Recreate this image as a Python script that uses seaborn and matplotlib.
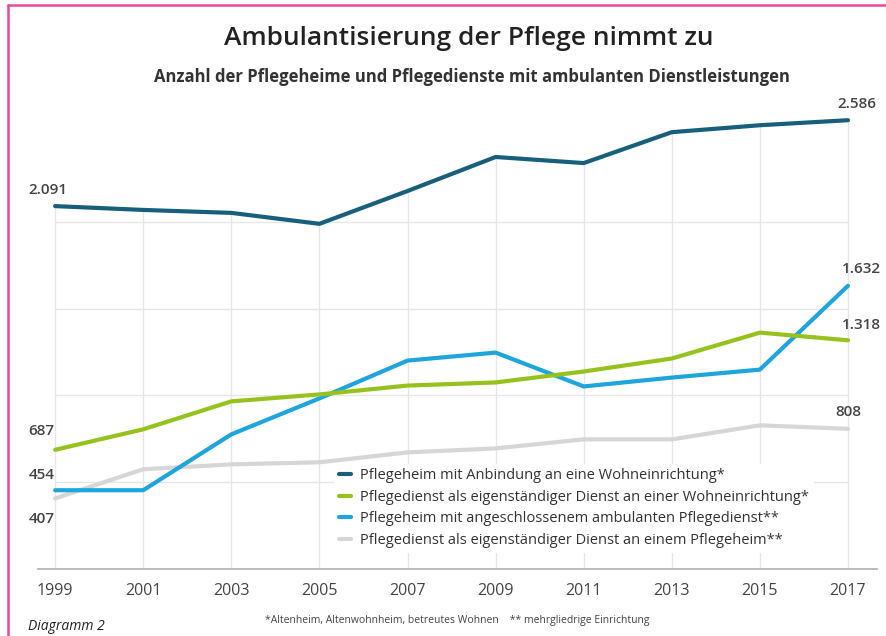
import pandas as pd
import matplotlib.pyplot as plt
import seaborn as sns

years = [1999, 2001, 2003, 2005, 2007, 2009, 2011, 2013, 2015, 2017]
series_names = [
    "Pflegeheim mit Anbindung an eine Wohneinrichtung*",
    "Pflegedienst als eigenständiger Dienst an einer Wohneinrichtung*",
    "Pflegeheim mit angeschlossenem ambulanten Pflegedienst**",
    "Pflegedienst als eigenständiger Dienst an einem Pflegeheim**",
]
heim_wohn = [2091, 2069, 2052, 1989, 2178, 2374, 2339, 2517, 2557, 2586]
dienst_wohn = [687, 805, 966, 1006, 1057, 1075, 1138, 1213, 1362, 1318]
heim_amb = [454, 454, 776, 983, 1201, 1247, 1052, 1103, 1149, 1632]
dienst_heim = [407, 575, 603, 615, 672, 695, 747, 747, 828, 808]
colors = ["#175f7b", "#97c21e", "#1ea5dc", "#d6d6d6"]
grid_levels = [500, 1000, 1500, 2000]

all_values = [heim_wohn, dienst_wohn, heim_amb, dienst_heim]
df = pd.concat(
    [pd.DataFrame({"Jahr": years, "Anzahl": vals, "Serie": name})
     for name, vals in zip(series_names, all_values)],
    ignore_index=True,
)


def fmt(v):
    return f"{v:,}".replace(",", ".")


sns.set_theme(style="white")
plt.rcParams["font.family"] = ["Open Sans", "DejaVu Sans"]

fig = plt.figure(figsize=(8.87, 6.36), dpi=100)
ax = fig.add_axes([0.0428, 0.1053, 0.946, 0.745])

# grid: horizontal between first and last year, vertical up to top line
ax.hlines(grid_levels, years[0], years[-1], color="#e6e6e6", lw=1, zorder=0)
ax.vlines(years, 0, heim_wohn, color="#e6e6e6", lw=1, zorder=0)

sns.lineplot(data=df, x="Jahr", y="Anzahl", hue="Serie", hue_order=series_names[::-1],
             palette=colors[::-1], linewidth=3, ax=ax, zorder=3)

ax.set_xlim(1998.61, 2017.66)
ax.set_ylim(0, 2730)
ax.set_xticks(years)
ax.set_xticklabels([str(y) for y in years], fontsize=11.5, color="#444444")
ax.set_yticks([])
ax.set_xlabel("")
ax.set_ylabel("")
for s in ["top", "right", "left"]:
    ax.spines[s].set_visible(False)
ax.spines["bottom"].set_color("#b0b0b0")
ax.spines["bottom"].set_linewidth(1.2)
ax.tick_params(axis="x", length=4, color="#c8c8c8", pad=6)

# value labels
lab = dict(fontsize=11, fontweight="semibold", color="#444444")
ax.text(1998.4, heim_wohn[0] + 55, fmt(heim_wohn[0]), ha="left", va="bottom", **lab)
ax.text(1998.4, dienst_wohn[0] + 70, fmt(dienst_wohn[0]), ha="left", va="bottom", **lab)
ax.text(1998.4, heim_amb[0] + 50, fmt(heim_amb[0]), ha="left", va="bottom", **lab)
ax.text(1998.4, dienst_heim[0] - 80, fmt(dienst_heim[0]), ha="left", va="top", **lab)
ax.text(2017.2, heim_wohn[-1] + 55, fmt(heim_wohn[-1]), ha="center", va="bottom", **lab)
ax.text(2017.3, heim_amb[-1] + 55, fmt(heim_amb[-1]), ha="center", va="bottom", **lab)
ax.text(2017.3, dienst_wohn[-1] + 45, fmt(dienst_wohn[-1]), ha="center", va="bottom", **lab)
ax.text(2017.0, dienst_heim[-1] + 55, fmt(dienst_heim[-1]), ha="center", va="bottom", **lab)

handles, labels = ax.get_legend_handles_labels()
order = [labels.index(n) for n in series_names]
leg = ax.legend([handles[i] for i in order], [labels[i] for i in order],
                loc="lower left", bbox_to_anchor=(0.345, 0.02), frameon=True,
                facecolor="white", edgecolor="white", framealpha=1,
                fontsize=10.5, handlelength=0.8, handletextpad=0.6,
                labelspacing=0.45, borderpad=0.3)
for t in leg.get_texts():
    t.set_color("#333333")
leg.set_zorder(4)

fig.text(0.528, 0.94, "Ambulantisierung der Pflege nimmt zu", ha="center", va="center",
         fontsize=19, fontweight="semibold", color="#222222")
fig.text(0.532, 0.879, "Anzahl der Pflegeheime und Pflegedienste mit ambulanten Dienstleistungen",
         ha="center", va="center", fontsize=12, fontweight="bold", color="#333333")
fig.text(0.515, 0.025, "*Altenheim, Altenwohnheim, betreutes Wohnen    ** mehrgliedrige Einrichtung",
         ha="center", va="center", fontsize=7.5, color="#444444")
fig.text(0.032, 0.003, "Diagramm 2", ha="left", va="bottom", fontsize=10,
         style="italic", color="#222222")

# pink page frame
pink = "#e8499b"
fig.add_artist(plt.Line2D([0.009, 0.009], [0, 0.992], color=pink, lw=1.8, transform=fig.transFigure))
fig.add_artist(plt.Line2D([0.009, 1.0], [0.992, 0.992], color=pink, lw=1.8, transform=fig.transFigure))

fig.savefig("out.png", dpi=100)
plt.close(fig)
